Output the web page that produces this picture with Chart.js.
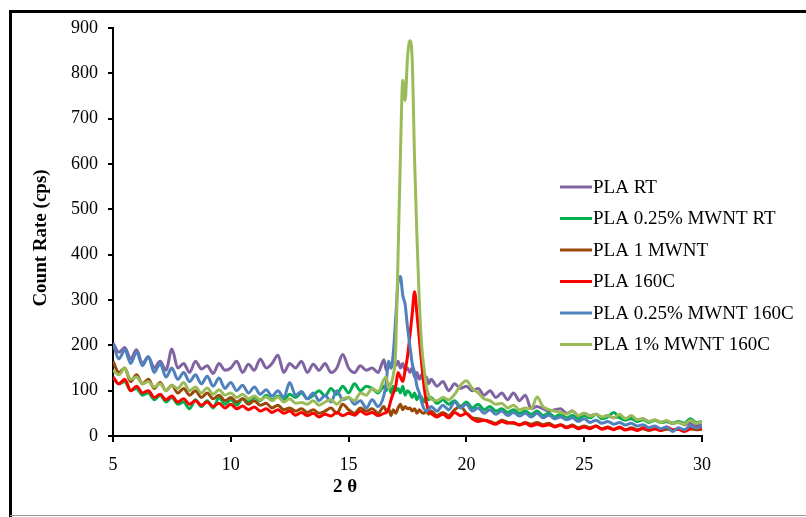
<!DOCTYPE html>
<html>
<head>
<meta charset="utf-8">
<script src="https://cdn.jsdelivr.net/npm/chart.js@4/dist/chart.umd.min.js"></script>
<style>
    html, body { margin: 0; padding: 0; background: #fff; }
    #wrap { width: 806px; height: 517px; }
</style>
</head>
<body>
<div id="wrap"><canvas id="xrd" width="806" height="517"></canvas></div>
<script>
// 2 theta positions (finer steps round the peaks)
const twoTheta = [
    5, 5.25, 5.5, 5.75, 6, 6.25, 6.5, 6.75, 7, 7.25, 7.5, 7.75, 8, 8.25, 8.5, 8.75, 9, 9.25, 9.5, 9.75,
    10, 10.25, 10.5, 10.75, 11, 11.25, 11.5, 11.75, 12, 12.25, 12.5, 12.75, 13, 13.25, 13.5, 13.75,
    14, 14.25, 14.5, 14.75, 15, 15.25, 15.5, 15.75, 16, 16.25, 16.5,
    16.6, 16.7, 16.8, 16.9, 17, 17.1, 17.2, 17.3, 17.4, 17.5, 17.6, 17.7, 17.8, 17.9, 18, 18.1, 18.2, 18.3, 18.4,
    18.5, 18.75, 19, 19.25, 19.5, 19.75, 20, 20.25, 20.5, 20.75, 21, 21.25, 21.5, 21.75, 22, 22.25, 22.5, 22.75,
    23, 23.25, 23.5, 23.75, 24, 24.25, 24.5, 24.75, 25, 25.25, 25.5, 25.75, 26, 26.25, 26.5, 26.75,
    27, 27.25, 27.5, 27.75, 28, 28.25, 28.5, 28.75, 29, 29.25, 29.5, 29.75, 30
];

const seriesNames = ['PLA RT', 'PLA 0.25% MWNT RT', 'PLA 1 MWNT', 'PLA 160C', 'PLA 0.25% MWNT 160C', 'PLA 1% MWNT 160C'];
const seriesColors = ['#8064A2', '#00B050', '#984807', '#FF0000', '#4F81BD', '#9BBB59'];

const plaRT = [
    205, 185, 195, 170, 190, 160, 175, 150, 165, 145, 192, 150, 160, 140, 165, 148, 155, 138, 160, 145,
    150, 165, 140, 158, 145, 170, 150, 160, 178, 140, 160, 150, 165, 140, 158, 145,
    160, 140, 150, 180, 150, 140, 155, 145, 150, 140, 168,
    145, 160, 150, 170, 155, 165, 150, 160, 145, 150, 140, 150, 130, 140, 125, 135, 120, 130, 115,
    125, 110, 120, 100, 115, 105, 110, 100, 105, 90, 100, 85, 95, 80, 95, 78, 90, 60,
    65, 60, 55, 58, 60, 50, 55, 45, 50, 45, 48, 40, 45, 40, 42, 38,
    40, 35, 38, 32, 35, 30, 32, 28, 30, 25, 28, 22, 25
];
const pla025RT = [
    130, 115, 120, 100, 105, 90, 95, 80, 90, 75, 85, 70, 75, 60, 80, 65, 78, 62, 85, 70,
    80, 68, 82, 75, 85, 78, 90, 80, 88, 80, 92, 85, 95, 82, 90, 100,
    88, 105, 92, 110, 95, 115, 100, 110, 105, 95, 110,
    100, 115, 95, 110, 100, 105, 95, 110, 90, 100, 95, 85, 95, 80, 90, 85, 75, 85, 80,
    85, 72, 80, 70, 78, 65, 75, 62, 70, 58, 65, 55, 60, 52, 58, 50, 55, 48,
    55, 45, 50, 42, 48, 40, 45, 38, 45, 40, 48, 38, 42, 52, 40, 35,
    38, 32, 36, 30, 35, 30, 32, 28, 32, 28, 38, 30, 32
];
const pla1MWNT = [
    165, 140, 150, 120, 135, 115, 125, 105, 118, 100, 112, 95, 105, 90, 100, 85, 95, 82, 90, 78,
    85, 75, 82, 70, 78, 68, 72, 62, 68, 58, 62, 55, 60, 52, 58, 50,
    55, 62, 50, 70, 58, 50, 62, 55, 60, 50, 65,
    55, 60, 45, 58, 50, 62, 70, 58, 65, 60, 62, 55, 60, 50, 58, 52, 50, 55, 48,
    55, 45, 52, 45, 58, 65, 50, 40, 38, 35, 32, 28, 35, 30, 28, 25, 30, 26,
    30, 25, 28, 22, 25, 20, 24, 18, 22, 18, 22, 16, 20, 15, 18, 14,
    18, 14, 16, 12, 16, 12, 15, 14, 15, 12, 16, 14, 15
];
const pla160C = [
    130, 115, 125, 100, 110, 95, 100, 85, 92, 80, 88, 75, 82, 70, 78, 68, 75, 65, 72, 62,
    70, 60, 66, 58, 64, 55, 60, 52, 58, 50, 55, 46, 52, 45, 50, 42,
    48, 44, 52, 45, 50, 46, 55, 48, 52, 45, 50,
    52, 60, 80, 95, 110, 140, 130, 120, 145, 175, 220, 270, 318, 270, 215, 160, 110, 75, 55,
    50, 42, 48, 40, 52, 45, 50, 38, 32, 35, 30, 26, 32, 28, 30, 24, 28, 22,
    26, 22, 25, 20, 24, 18, 22, 16, 20, 16, 22, 15, 18, 14, 20, 13,
    16, 12, 18, 14, 16, 12, 20, 14, 15, 10, 16, 20, 15
];
const pla025MWNT160C = [
    205, 170, 190, 160, 185, 155, 175, 140, 160, 130, 150, 125, 140, 120, 135, 115, 132, 110, 128, 105,
    118, 100, 112, 95, 108, 92, 102, 88, 100, 85, 118, 90, 98, 82, 95, 78,
    90, 75, 100, 80, 85, 70, 78, 62, 80, 65, 90,
    120, 165, 150, 185, 260, 340, 352, 310, 290, 240, 200, 160, 140, 110, 95, 75, 60, 55, 58,
    65, 55, 68, 58, 75, 62, 70, 55, 62, 50, 58, 48, 55, 45, 52, 44, 50, 42,
    50, 40, 46, 38, 42, 36, 40, 32, 38, 30, 35, 28, 32, 26, 30, 24,
    28, 22, 25, 18, 22, 16, 20, 10, 18, 14, 22, 18, 22
];
const pla1MWNT160C = [
    145, 135, 150, 125, 130, 115, 120, 108, 115, 100, 112, 105, 118, 100, 108, 95, 106, 92, 102, 90,
    95, 85, 92, 82, 88, 80, 86, 78, 86, 75, 82, 72, 74, 70, 78, 68,
    75, 80, 70, 82, 85, 78, 95, 90, 105, 98, 125,
    130, 105, 115, 135, 190, 400, 620, 785, 740, 835, 872, 830, 610, 440, 300, 200, 150, 110, 90,
    82, 78, 85, 80, 92, 112, 122, 105, 95, 82, 78, 70, 72, 62, 68, 58, 62, 60,
    86, 65, 58, 55, 52, 48, 55, 45, 50, 44, 48, 42, 45, 40, 48, 38,
    45, 36, 38, 32, 36, 30, 34, 28, 30, 26, 35, 28, 32
];

const seriesValues = [plaRT, pla025RT, pla1MWNT, pla160C, pla025MWNT160C, pla1MWNT160C];
const serif = "'Liberation Serif', 'Times New Roman', serif";

// frame, axis titles and the legend drawn straight on the canvas
const decorations = {
    id: 'decorations',
    beforeDraw(chart) {
        const ctx = chart.ctx;
        ctx.save();
        ctx.strokeStyle = '#000';
        ctx.lineWidth = 3;
        ctx.beginPath();
        ctx.moveTo(10.5, 517);
        ctx.lineTo(10.5, 11.5);
        ctx.lineTo(806, 11.5);
        ctx.stroke();
        ctx.strokeStyle = '#999';
        ctx.lineWidth = 1;
        ctx.beginPath();
        ctx.moveTo(10, 515.5);
        ctx.lineTo(806, 515.5);
        ctx.stroke();
        ctx.restore();
    },
    afterDraw(chart) {
        const ctx = chart.ctx;
        ctx.save();
        ctx.fillStyle = '#000';
        ctx.font = 'bold 19px ' + serif;
        ctx.textAlign = 'center';
        ctx.textBaseline = 'middle';
        ctx.fillText('2 θ', 345, 487);
        ctx.translate(41, 238);
        ctx.rotate(-Math.PI / 2);
        ctx.fillText('Count Rate (cps)', 0, 0);
        ctx.restore();

        ctx.save();
        ctx.font = '19px ' + serif;
        ctx.textBaseline = 'middle';
        chart.data.datasets.forEach((ds, i) => {
            const y = 187 + i * 31.5;
            ctx.strokeStyle = ds.borderColor;
            ctx.lineWidth = 3;
            ctx.beginPath();
            ctx.moveTo(560, y);
            ctx.lineTo(592, y);
            ctx.stroke();
            ctx.fillStyle = '#000';
            ctx.fillText(ds.label, 593, y + 1);
        });
        ctx.restore();
    }
};

new Chart(document.getElementById('xrd'), {
    type: 'line',
    data: {
        datasets: seriesNames.map((name, i) => ({
            label: name,
            data: twoTheta.map((x, j) => ({x: x, y: seriesValues[i][j]})),
            borderColor: seriesColors[i],
            backgroundColor: seriesColors[i],
            borderWidth: 3,
            pointRadius: 0,
            cubicInterpolationMode: 'monotone',
            order: seriesNames.length - i
        }))
    },
    options: {
        responsive: false,
        animation: false,
        layout: {padding: {left: 0, right: 104, top: 28, bottom: 0}},
        plugins: {
            legend: {display: false},
            tooltip: {enabled: false}
        },
        scales: {
            x: {
                type: 'linear',
                min: 5,
                max: 30,
                afterFit: (scale) => { scale.height = 81; },
                ticks: {stepSize: 5, color: '#000', padding: 12, font: {family: serif, size: 18}},
                grid: {display: true, drawOnChartArea: false, drawTicks: true, tickLength: 6, color: '#000', lineWidth: 2},
                border: {display: true, color: '#000', width: 2}
            },
            y: {
                min: 0,
                max: 900,
                afterFit: (scale) => { scale.width = 113; },
                ticks: {stepSize: 100, color: '#000', padding: 10, font: {family: serif, size: 18}},
                grid: {display: true, drawOnChartArea: false, drawTicks: true, tickLength: 5, color: '#000', lineWidth: 2},
                border: {display: true, color: '#000', width: 2}
            }
        }
    },
    plugins: [decorations]
});
</script>
</body>
</html>
